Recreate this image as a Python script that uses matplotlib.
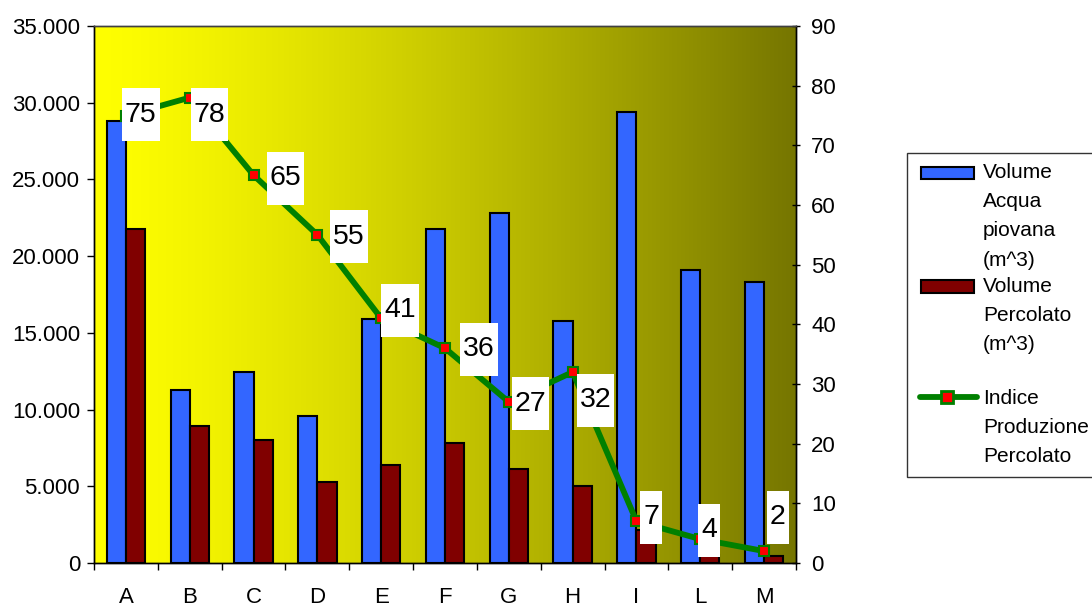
import matplotlib
matplotlib.use("Agg")
import matplotlib.pyplot as plt
import numpy as np
from matplotlib.patches import Rectangle
from matplotlib.lines import Line2D
from matplotlib.ticker import FuncFormatter

plt.rcParams['font.family'] = ['Liberation Sans', 'DejaVu Sans']

# dati per discarica
categorie = ["A", "B", "C", "D", "E", "F", "G", "H", "I", "L", "M"]
acqua_piovana = [28800, 11300, 12450, 9600, 15900, 21800, 22800, 15800, 29400, 19100, 18300]
percolato = [21800, 8900, 8000, 5300, 6400, 7850, 6150, 5000, 2150, 500, 440]
indice = [75, 78, 65, 55, 41, 36, 27, 32, 7, 4, 2]

legenda = [["Volume", "Acqua", "piovana", "(m^3)"],
           ["Volume", "Percolato", "(m^3)"],
           ["Indice", "Produzione", "Percolato"]]

# spostamento delle etichette (pixel, dx verso destra, dy verso il basso)
spost = [(-4, -1), (1, 17), (13, 3), (13, 2), (0, -8), (15, 1),
         (3, 2), (4, 28), (4, -4), (-2, -9), (3, -34)]

BLU = '#3366FF'
ROSSO = '#800000'
VERDE = '#008000'

W, H = 1092, 606
fig = plt.figure(figsize=(W / 100, H / 100), dpi=100)
ax = fig.add_axes([94 / W, 1 - 563 / H, (796 - 94) / W, (563 - 26) / H])
ax2 = ax.twinx()

# sfondo sfumato giallo -> oliva
t = np.linspace(0, 1, 500)
liv = 1 - 0.54 * t ** 1.3
grad = np.zeros((1, 500, 3))
grad[..., 0] = liv
grad[..., 1] = liv
ax.imshow(grad, extent=[0, 1, 0, 1], transform=ax.transAxes, aspect='auto', zorder=0)

x = np.arange(len(categorie))
ax.bar(x - 0.15, acqua_piovana, 0.3, color=BLU, edgecolor='black', linewidth=1.5, zorder=2)
ax.bar(x + 0.15, percolato, 0.3, color=ROSSO, edgecolor='black', linewidth=1.5, zorder=2)

ax.set_xlim(-0.5, len(categorie) - 0.5)
ax.set_ylim(0, 35000)
ax2.set_ylim(0, 90)

ax.set_yticks(range(0, 35001, 5000))
ax.yaxis.set_major_formatter(FuncFormatter(lambda v, p: f"{int(v):,}".replace(",", ".")))
ax.tick_params(axis='y', direction='out', length=5, width=1, labelsize=16, pad=5)

ax.set_xticks(np.arange(-0.5, len(categorie), 1))
ax.set_xticklabels([])
ax.set_xticks(x, minor=True)
ax.set_xticklabels(categorie, minor=True)
ax.tick_params(axis='x', which='major', direction='out', length=5, width=1)
ax.tick_params(axis='x', which='minor', length=0, labelsize=16, pad=17)

ax2.set_yticks(range(0, 91, 10))
ax2.tick_params(axis='y', direction='inout', length=6, width=1, labelsize=16, pad=8)

for a in (ax, ax2):
    for s in ('left', 'bottom', 'right'):
        a.spines[s].set_color('black')
        a.spines[s].set_linewidth(1)
    a.spines['top'].set_color('#404040')
    a.spines['top'].set_linewidth(1)

ax2.plot(x, indice, color=VERDE, lw=4.2, marker='s', ms=7, mfc='#FF0000',
         mec=VERDE, mew=1.5, zorder=3, clip_on=False)

testi = []
for i, v in enumerate(indice):
    dx, dy = spost[i]
    tx = ax2.annotate(str(v), xy=(i, v), xytext=(dx + 3, -dy), textcoords='offset pixels',
                      ha='left', va='center', fontsize=20.5, zorder=5, annotation_clip=False)
    testi.append(tx)

# riquadri bianchi dietro le etichette
fig.canvas.draw()
rend = fig.canvas.get_renderer()
inv = ax2.transAxes.inverted()
for tx in testi:
    bb = tx.get_window_extent(rend)
    cy = (bb.y0 + bb.y1) / 2
    (x0, y0) = inv.transform((bb.x0 - 3, cy - 26.5))
    (x1, y1) = inv.transform((bb.x1 + 3, cy + 26.5))
    ax2.add_patch(Rectangle((x0, y0), x1 - x0, y1 - y0, transform=ax2.transAxes,
                            facecolor='white', edgecolor='none', zorder=4, clip_on=False))

# legenda disegnata a mano
def fx(px):
    return px / W

def fy(py):
    return 1 - py / H

fig.add_artist(Rectangle((fx(907), fy(477)), fx(1100) - fx(907), fy(153) - fy(477),
                         transform=fig.transFigure, facecolor='white', edgecolor='#333333', lw=1))
fig.add_artist(Rectangle((fx(921), fy(178.5)), fx(974) - fx(921), fy(166.5) - fy(178.5),
                         transform=fig.transFigure, facecolor=BLU, edgecolor='black', lw=1.5))
fig.add_artist(Rectangle((fx(921), fy(292.5)), fx(974) - fx(921), fy(279.5) - fy(292.5),
                         transform=fig.transFigure, facecolor=ROSSO, edgecolor='black', lw=1.5))
fig.add_artist(Line2D([fx(920), fx(977)], [fy(397), fy(397)], transform=fig.transFigure,
                      color=VERDE, lw=4.2, solid_capstyle='round'))
fig.add_artist(Line2D([fx(947)], [fy(397)], transform=fig.transFigure, marker='s', ms=8,
                      mfc='#FF0000', mec=VERDE, mew=2))

for y_inizio, righe in zip([172, 286, 398], legenda):
    for k, r in enumerate(righe):
        fig.text(fx(983), fy(y_inizio + k * 29.5), r, fontsize=15, ha='left', va='center')

fig.savefig("out.png", dpi=100)
